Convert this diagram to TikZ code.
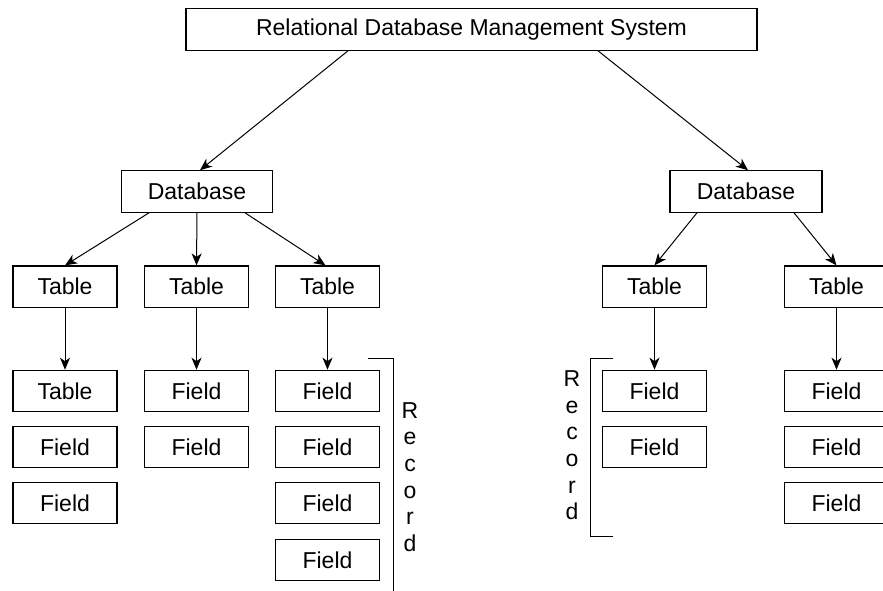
\documentclass[tikz,border=0pt]{standalone}
\usepackage{fontspec}
\setmainfont{Liberation Sans}
\usetikzlibrary{arrows.meta}
\begin{document}
\begin{tikzpicture}[x=1pt,y=-1pt,
  box/.style={draw,line width=1.1pt,minimum width=104pt,minimum height=41.5pt,inner sep=0pt,font=\fontsize{23}{27}\selectfont},
  conn/.style={line width=1pt,-{Stealth[length=12pt,width=10pt,inset=3.5pt]}},
  bracket/.style={line width=1pt},
  rec/.style={align=center,inner sep=0pt,font=\fontsize{23}{26.7}\selectfont}]
\useasboundingbox[fill=white] (0,0) rectangle (883,591);
% top
\node[box,minimum width=571pt] (rdbms) at (471.5,29.5) {Relational Database Management System};
\node[box,minimum width=151pt] (dbL) at (197,191.5) {Database};
\node[box,minimum width=152pt] (dbR) at (746,191.5) {Database};
% left tables
\node[box] (t1) at (65,286.7) {Table};
\node[box] (t2) at (196.5,286.7) {Table};
\node[box] (t3) at (327.5,286.7) {Table};
% right tables
\node[box] (t4) at (654.5,286.7) {Table};
\node[box] (t5) at (836.5,286.7) {Table};
% column 1
\node[box] (c1a) at (65,391) {Table};
\node[box] (c1b) at (65,447) {Field};
\node[box] (c1c) at (65,503) {Field};
% column 2
\node[box] (c2a) at (196.5,391) {Field};
\node[box] (c2b) at (196.5,447) {Field};
% column 3
\node[box] (c3a) at (327.5,391) {Field};
\node[box] (c3b) at (327.5,447) {Field};
\node[box] (c3c) at (327.5,503) {Field};
\node[box] (c3d) at (327.5,560) {Field};
% column 4
\node[box] (c4a) at (654.5,391) {Field};
\node[box] (c4b) at (654.5,447) {Field};
% column 5
\node[box] (c5a) at (836.5,391) {Field};
\node[box] (c5b) at (836.5,447) {Field};
\node[box] (c5c) at (836.5,503) {Field};
% connectors
\draw[conn] ([xshift=-123.5pt]rdbms.south) -- ([xshift=3pt]dbL.north);
\draw[conn] ([xshift=126.5pt]rdbms.south) -- ([xshift=2pt]dbR.north);
\draw[conn] ([xshift=-48pt]dbL.south) -- (t1.north);
\draw[conn] (dbL.south) -- (t2.north);
\draw[conn] ([xshift=48pt]dbL.south) -- ([xshift=-2pt]t3.north);
\draw[conn] ([xshift=-49pt]dbR.south) -- (t4.north);
\draw[conn] ([xshift=48pt]dbR.south) -- (t5.north);
\draw[conn] (t1.south) -- (c1a.north);
\draw[conn] (t2.south) -- (c2a.north);
\draw[conn] (t3.south) -- (c3a.north);
\draw[conn] (t4.south) -- (c4a.north);
\draw[conn] (t5.south) -- (c5a.north);
% record brackets
\draw[bracket] (368,358.3) -- (393,358.3) -- (393,592);
\node[rec] (recL) at (410,477) {R\\e\\c\\o\\r\\d};
\draw[bracket] (613,358.7) -- (590,358.7) -- (590,536) -- (613,536);
\node[rec] (recR) at (572,445.3) {R\\e\\c\\o\\r\\d};
\end{tikzpicture}
\end{document}
